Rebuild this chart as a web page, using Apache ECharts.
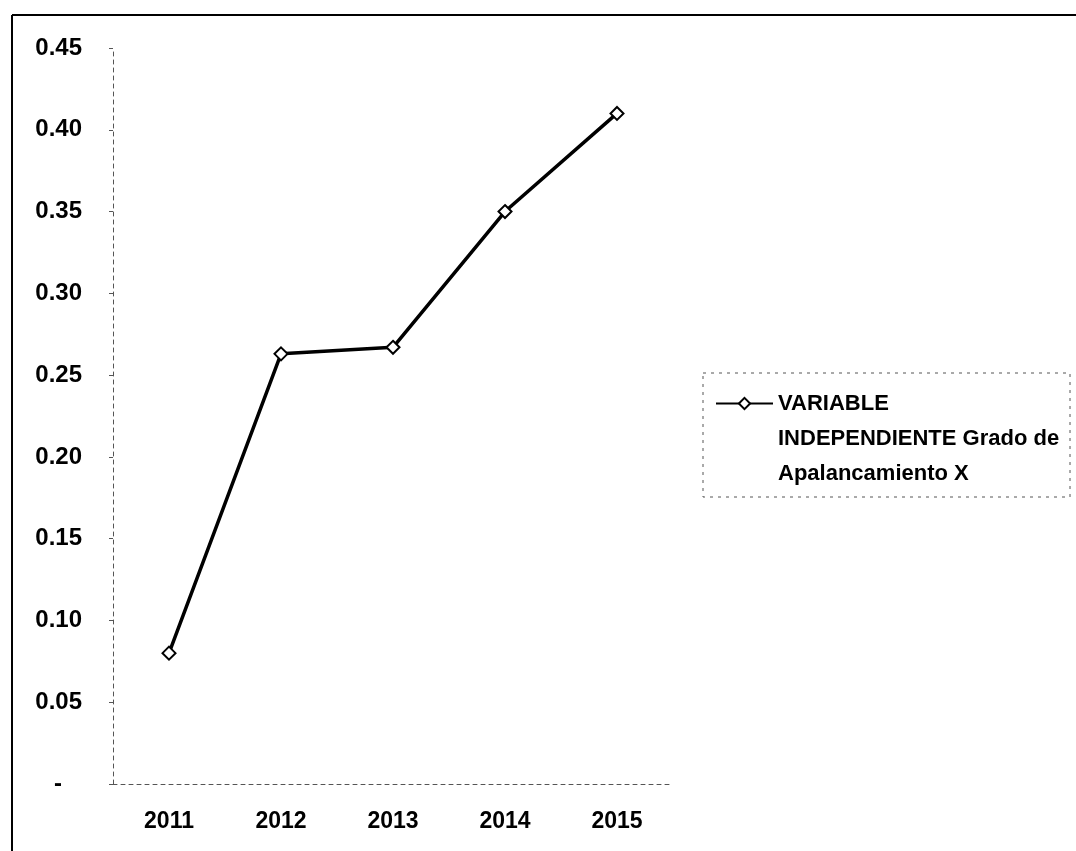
<!DOCTYPE html>
<html>
<head>
<meta charset="utf-8">
<title>Grado de Apalancamiento</title>
<script src="https://cdn.jsdelivr.net/npm/echarts@6/dist/echarts.min.js"></script>
<style>
  html, body { margin: 0; padding: 0; background: #fff; }
  #chart { width: 1076px; height: 851px; }
</style>
</head>
<body>
<div id="chart"></div>
<script>
// data
const years = ['2011', '2012', '2013', '2014', '2015']
const apalancamiento = [0.08, 0.263, 0.267, 0.35, 0.41]
const seriesName = 'VARIABLE INDEPENDIENTE Grado de Apalancamiento X'
const legendLines = ['VARIABLE', 'INDEPENDIENTE Grado de', 'Apalancamiento X']
const yMin = 0
const yMax = 0.45
const yStep = 0.05

const font = '"Liberation Sans", Arial, sans-serif'

const chart = echarts.init(document.getElementById('chart'))

const option = {
  backgroundColor: '#fff',
  animation: false,
  grid: {
    left: 113,
    right: 403,
    top: 48,
    bottom: 67
  },
  legend: {
    data: [seriesName],
    left: 710,
    top: 311,
    itemWidth: 57,
    itemHeight: 14,
    // two empty lines first so the icon lines up with "VARIABLE"
    formatter: () => '\n\n' + legendLines.join('\n'),
    textStyle: {
      fontFamily: font,
      fontWeight: 'bold',
      fontSize: 22,
      color: '#000',
      lineHeight: 35
    }
  },
  xAxis: {
    type: 'category',
    data: years,
    boundaryGap: true,
    axisLine: {
      lineStyle: { color: '#555', width: 1, type: [4, 4] }
    },
    axisTick: { show: false },
    axisLabel: {
      margin: 26,
      fontFamily: font,
      fontWeight: 'bold',
      fontSize: 23,
      color: '#000'
    },
    splitLine: { show: false }
  },
  yAxis: {
    type: 'value',
    min: yMin,
    max: yMax,
    interval: yStep,
    axisLine: {
      show: true,
      lineStyle: { color: '#555', width: 1, type: [4, 4] }
    },
    axisTick: {
      show: true,
      length: 4,
      lineStyle: { color: '#555' }
    },
    axisLabel: {
      margin: 31,
      fontFamily: font,
      fontWeight: 'bold',
      fontSize: 24,
      color: '#000',
      formatter: (v) => (Math.abs(v) < 1e-9 ? '-   ' : v.toFixed(2))
    },
    splitLine: { show: false }
  },
  series: [
    {
      name: seriesName,
      type: 'line',
      data: apalancamiento,
      symbol: 'emptyDiamond',
      symbolSize: 13,
      lineStyle: { color: '#000', width: 3.5 },
      itemStyle: { color: '#000', borderWidth: 2 }
    }
  ],
  graphic: [
    // outer frame of the scanned chart
    {
      type: 'line',
      shape: { x1: 12, y1: 15, x2: 1076, y2: 15 },
      style: { stroke: '#000', lineWidth: 2 }
    },
    {
      type: 'line',
      shape: { x1: 12, y1: 15, x2: 12, y2: 851 },
      style: { stroke: '#000', lineWidth: 2 }
    },
    // legend box
    {
      type: 'rect',
      shape: { x: 703, y: 373, width: 367, height: 124 },
      style: { fill: 'none', stroke: '#555', lineWidth: 1, lineDash: [3, 5] }
    }
  ]
}

chart.setOption(option)
</script>
</body>
</html>
